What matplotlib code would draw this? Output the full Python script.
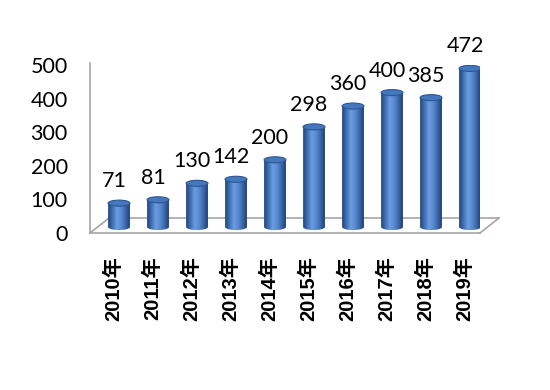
import matplotlib
matplotlib.use('Agg')
import matplotlib.pyplot as plt
import matplotlib.transforms as mtransforms
from matplotlib.patches import Ellipse, Polygon
from matplotlib.colors import LinearSegmentedColormap
import numpy as np

# data
years = ['2010年', '2011年', '2012年', '2013年', '2014年',
         '2015年', '2016年', '2017年', '2018年', '2019年']
values = [71, 81, 130, 142, 200, 298, 360, 400, 385, 472]
yticks = [0, 100, 200, 300, 400, 500]

fig = plt.figure(figsize=(5.5, 3.9), dpi=100)
ax = fig.add_axes([90 / 550, 157 / 390, 390 / 550, 168 / 390])
ax.set_xlim(-0.744, 9.256)
ax.set_ylim(0, 500)
for s in ax.spines.values():
    s.set_visible(False)

# bars sit a bit behind the front edge of the floor
bar_tr = ax.transData + mtransforms.ScaledTranslation(0, 0.06, fig.dpi_scale_trans)
back_tr = ax.transData + mtransforms.ScaledTranslation(0.19, 0.15, fig.dpi_scale_trans)

edge = '#a6a6a6'
x0, x1 = ax.get_xlim()
# floor
ax.plot([x0, x1], [0, 0], color=edge, lw=1.2, clip_on=False)
ax.plot([x0, x1], [0, 0], color=edge, lw=1.2, clip_on=False, transform=back_tr)
for xx in (x0, x1):
    p0 = ax.transData.transform((xx, 0))
    p1 = back_tr.transform((xx, 0))
    ax.plot([p0[0], p1[0]], [p0[1], p1[1]], color=edge, lw=1.2,
            transform=None, clip_on=False)
# wall line
ax.plot([x0, x0], [0, 505], color=edge, lw=1.2, clip_on=False)

cmap = LinearSegmentedColormap.from_list(
    'cyl', ['#22467e', '#4070b4', '#6c9ce0', '#5989d0', '#3b69aa', '#1f3f72'])
grad = np.linspace(0, 1, 64).reshape(1, -1)

w = 0.56      # bar width in category units
eh = 18       # ellipse height in value units
t = np.linspace(0, np.pi, 40)
for i, v in enumerate(values):
    # body with lower half ellipse
    arc = np.column_stack([i + w / 2 * np.cos(t), -eh / 2 * np.sin(t)])
    pts = np.vstack([[i - w / 2, v], [i + w / 2, v], arc])
    body = Polygon(pts, closed=True, facecolor='none', edgecolor='none',
                   transform=bar_tr)
    ax.add_patch(body)
    im = ax.imshow(grad, cmap=cmap, aspect='auto',
                   extent=(i - w / 2, i + w / 2, -eh, v),
                   transform=bar_tr, zorder=3)
    im.set_clip_path(body)
    top = Ellipse((i, v), w, eh, facecolor='#4577bd', edgecolor='#2d5694',
                  lw=0.8, transform=bar_tr, zorder=4)
    ax.add_patch(top)
    ax.annotate(str(v), (i, v), xycoords=bar_tr, xytext=(-5, 12),
                textcoords='offset pixels', ha='center', va='bottom',
                fontsize=15.5, family='Lato', color='black', zorder=5)

ax.set_xlim(x0, x1)
ax.set_ylim(0, 500)
ax.set_yticks(yticks)
ax.set_yticklabels([str(y) for y in yticks], fontsize=15.5, family='Lato')
ax.set_xticks(np.arange(len(years)) - 0.15)
ax.set_xticklabels(years, rotation=90, fontsize=14.5, fontweight='bold',
                   family=['Liberation Sans', 'Noto Sans CJK SC'])
ax.tick_params(axis='y', length=0, pad=16)
ax.tick_params(axis='x', length=0, pad=17)

fig.savefig('out.png', dpi=100)
